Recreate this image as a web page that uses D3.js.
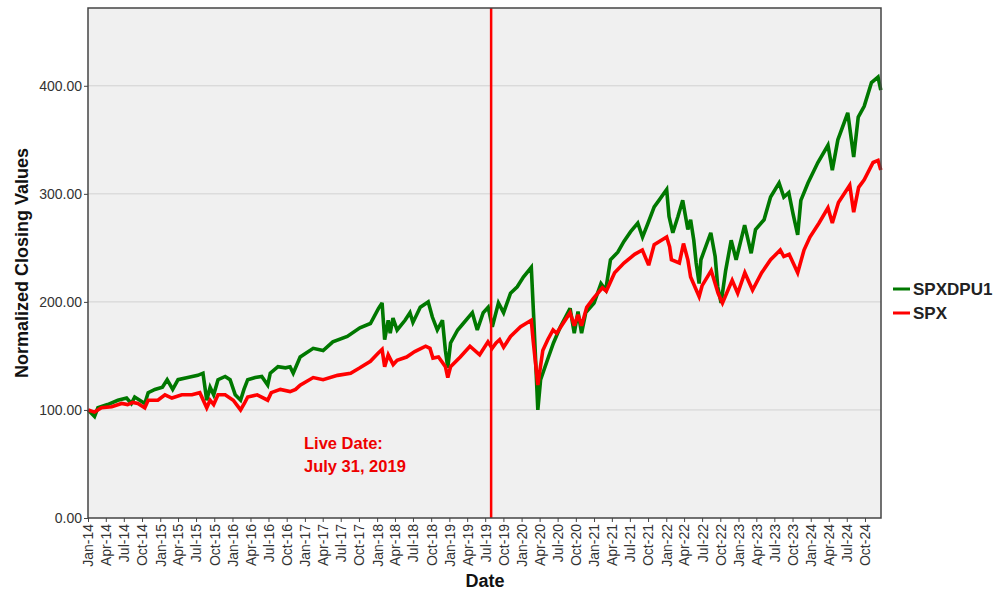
<!DOCTYPE html>
<html>
<head>
<meta charset="utf-8">
<script src="https://cdn.jsdelivr.net/npm/d3@7"></script>
<style>
  body { margin: 0; background: #fff; }
  svg { display: block; font-family: "Liberation Sans", Arial, sans-serif; }
</style>
</head>
<body>
<div id="chart"></div>
<script>
// Series (normalized to 100 at Jan 2014)
const seriesNames = ['SPXDPU1', 'SPX'];
const seriesColors = ['#007800', '#ff0000'];

const dpuDates = [
  '2014-01-02','2014-02-03','2014-02-20','2014-04-10','2014-06-01','2014-07-15','2014-08-08','2014-08-25',
  '2014-10-15','2014-11-01','2014-12-05','2015-01-12','2015-02-05','2015-03-05','2015-04-01','2015-05-20',
  '2015-07-10','2015-08-05','2015-08-24','2015-09-10','2015-09-28','2015-10-20','2015-11-25','2015-12-20',
  '2016-01-15','2016-02-11','2016-02-28','2016-03-18','2016-04-25','2016-05-28','2016-06-27','2016-07-10',
  '2016-08-18','2016-09-25','2016-10-18','2016-11-03','2016-12-08','2017-02-12','2017-04-03','2017-05-22',
  '2017-08-03','2017-10-06','2017-11-28','2018-01-08','2018-01-26','2018-02-08','2018-02-26','2018-03-08',
  '2018-03-22','2018-04-12','2018-05-22','2018-06-16','2018-07-01','2018-08-07','2018-09-16','2018-10-07',
  '2018-11-01','2018-11-27','2018-12-12','2018-12-24','2019-01-07','2019-02-12','2019-03-12','2019-04-27',
  '2019-05-22','2019-06-21','2019-07-16','2019-08-06','2019-09-06','2019-10-02','2019-11-06','2019-12-10',
  '2020-01-10','2020-02-19','2020-03-01','2020-03-23','2020-04-06','2020-05-10','2020-06-10','2020-07-15',
  '2020-09-02','2020-09-23','2020-10-12','2020-10-30','2020-11-20','2021-01-01','2021-02-05','2021-03-01',
  '2021-03-25','2021-05-01','2021-06-01','2021-07-05','2021-08-10','2021-09-03','2021-10-01','2021-11-01',
  '2021-11-25','2022-01-03','2022-01-15','2022-02-03','2022-03-01','2022-03-25','2022-04-20','2022-05-04',
  '2022-05-20','2022-06-01','2022-06-16','2022-06-25','2022-08-14','2022-09-05','2022-09-18','2022-10-05',
  '2022-10-28','2022-11-25','2022-12-20','2023-02-01','2023-03-06','2023-03-28','2023-05-10','2023-06-12',
  '2023-07-25','2023-08-18','2023-09-12','2023-10-03','2023-10-27','2023-11-12','2023-12-18','2024-02-06',
  '2024-03-28','2024-04-19','2024-05-17','2024-07-06','2024-08-05','2024-08-28','2024-09-27','2024-11-03',
  '2024-12-06','2024-12-20'
];
const dpuValues = [
  100, 94, 102, 105, 109, 111, 106, 112,
  106, 116, 119, 121, 128, 119, 128, 130,
  132, 134, 109, 121, 114, 128, 131, 128,
  114, 109, 119, 128, 130, 131, 123, 134,
  140, 139, 140, 134, 149, 157, 155, 163,
  168, 176, 180, 194, 199, 165, 183, 171,
  185, 174, 183, 190, 181, 195, 200, 186,
  174, 183, 155, 139, 162, 174, 180, 190,
  174, 190, 195, 177, 199, 190, 208, 214,
  223, 232, 190, 100, 128, 146, 162, 177,
  194, 171, 191, 171, 190, 199, 217, 211,
  239, 246, 256, 265, 273, 260, 273, 288,
  294, 304, 279, 264, 279, 294, 267, 276,
  257, 236, 217, 239, 264, 242, 214, 199,
  229, 257, 239, 271, 245, 267, 276, 297,
  310, 297, 301, 282, 262, 294, 310, 329,
  345, 322, 350, 375, 334, 371, 381, 403,
  408, 396
];

const spxDates = [
  '2014-01-02','2014-02-03','2014-03-10','2014-05-01','2014-06-20','2014-07-20','2014-08-15','2014-09-10',
  '2014-10-15','2014-11-01','2014-12-20','2015-01-25','2015-03-01','2015-04-20','2015-06-10','2015-07-20',
  '2015-08-24','2015-09-10','2015-09-28','2015-10-20','2015-11-25','2016-01-05','2016-02-11','2016-03-01',
  '2016-03-18','2016-05-05','2016-06-27','2016-07-15','2016-08-30','2016-10-18','2016-11-15','2016-12-08',
  '2017-02-12','2017-04-03','2017-06-15','2017-08-20','2017-10-06','2017-11-28','2018-01-08','2018-01-26',
  '2018-02-08','2018-02-26','2018-03-23','2018-04-12','2018-05-30','2018-07-10','2018-09-03','2018-09-25',
  '2018-10-10','2018-11-07','2018-12-12','2018-12-24','2019-01-07','2019-02-25','2019-04-15','2019-06-03',
  '2019-07-15','2019-08-05','2019-08-25','2019-09-12','2019-10-02','2019-11-06','2019-12-27','2020-02-19',
  '2020-02-28','2020-03-23','2020-04-17','2020-05-12','2020-06-08','2020-06-26','2020-09-02','2020-09-23',
  '2020-10-12','2020-10-30','2020-11-25','2020-12-28','2021-02-12','2021-03-04','2021-04-15','2021-06-01',
  '2021-07-25','2021-09-02','2021-10-04','2021-11-01','2022-01-03','2022-01-18','2022-01-27','2022-03-08',
  '2022-03-29','2022-04-20','2022-05-04','2022-06-16','2022-07-01','2022-08-16','2022-09-20','2022-10-12',
  '2022-11-30','2022-12-28','2023-02-02','2023-03-13','2023-04-28','2023-06-12','2023-07-31','2023-08-18',
  '2023-09-14','2023-10-27','2023-11-28','2023-12-28','2024-02-12','2024-03-28','2024-04-19','2024-05-20',
  '2024-07-16','2024-08-05','2024-08-30','2024-09-27','2024-11-11','2024-12-06','2024-12-20'
];
const spxValues = [
  100, 98, 102, 103, 106, 105, 107, 106,
  102, 109, 109, 114, 111, 114, 114, 116,
  102, 109, 105, 114, 114, 109, 100, 106,
  112, 114, 109, 116, 119, 117, 119, 123,
  130, 128, 132, 134, 139, 145, 153, 156,
  140, 151, 142, 146, 149, 154, 159, 157,
  148, 149, 140, 130, 140, 149, 159, 151,
  163, 157, 162, 165, 158, 168, 177, 183,
  165, 123, 155, 165, 174, 171, 190, 178,
  188, 178, 195, 203, 213, 210, 227, 236,
  244, 248, 234, 253, 260, 251, 239, 236,
  254, 239, 223, 205, 215, 229, 208, 199,
  220, 208, 227, 211, 227, 239, 248, 242,
  244, 227, 248, 260, 273, 287, 273, 292,
  308, 283, 306, 313, 329, 331, 322
];

const yTicks = [0, 100, 200, 300, 400];
const liveDate = '2019-07-31';
const liveLabel = ['Live Date:', 'July 31, 2019'];

const width = 1000, height = 600;
const margin = { top: 8, right: 119, bottom: 82, left: 88 };
const innerW = width - margin.left - margin.right;
const innerH = height - margin.top - margin.bottom;

const parse = d3.timeParse('%Y-%m-%d');
const series = [
  { name: seriesNames[0], color: seriesColors[0], points: dpuDates.map((d, i) => ({ date: parse(d), value: dpuValues[i] })) },
  { name: seriesNames[1], color: seriesColors[1], points: spxDates.map((d, i) => ({ date: parse(d), value: spxValues[i] })) }
];

const svg = d3.select('#chart').append('svg')
  .attr('width', width)
  .attr('height', height);

const x = d3.scaleTime()
  .domain([parse('2014-01-01'), parse('2024-12-21')])
  .range([margin.left, margin.left + innerW]);

const y = d3.scaleLinear()
  .domain([0, 472])
  .range([margin.top + innerH, margin.top]);

// plot background
svg.append('rect')
  .attr('x', margin.left).attr('y', margin.top)
  .attr('width', innerW).attr('height', innerH)
  .attr('fill', '#f0f0f0');

// horizontal grid
svg.append('g')
  .selectAll('line')
  .data(yTicks.filter(t => t > 0))
  .join('line')
  .attr('x1', margin.left).attr('x2', margin.left + innerW)
  .attr('y1', d => y(d)).attr('y2', d => y(d))
  .attr('stroke', '#d2d2d2')
  .attr('stroke-width', 1);

// lines
const line = d3.line()
  .x(d => x(d.date))
  .y(d => y(d.value));

svg.append('g')
  .selectAll('path')
  .data(series)
  .join('path')
  .attr('d', d => line(d.points))
  .attr('fill', 'none')
  .attr('stroke', d => d.color)
  .attr('stroke-width', 3.6)
  .attr('stroke-linejoin', 'miter')
  .attr('stroke-miterlimit', 3);

// live date marker
svg.append('line')
  .attr('x1', x(parse(liveDate))).attr('x2', x(parse(liveDate)))
  .attr('y1', margin.top).attr('y2', margin.top + innerH)
  .attr('stroke', '#ff0000')
  .attr('stroke-width', 2.5);

svg.append('text')
  .attr('x', 304)
  .attr('y', 449)
  .attr('fill', '#ee0000')
  .attr('font-size', 16.5)
  .attr('font-weight', 'bold')
  .selectAll('tspan')
  .data(liveLabel)
  .join('tspan')
  .attr('x', 304)
  .attr('dy', (d, i) => i === 0 ? 0 : 23)
  .text(d => d);

// y axis
const yAxis = svg.append('g')
  .attr('transform', `translate(${margin.left},0)`)
  .call(d3.axisLeft(y).tickValues(yTicks).tickFormat(d3.format('.2f')).tickSize(4).tickPadding(2));
yAxis.select('.domain').remove();
yAxis.selectAll('.tick line').attr('stroke', '#444');
yAxis.selectAll('.tick text')
  .attr('font-size', 14)
  .attr('fill', '#333')
  .attr('font-family', '"Liberation Sans", Arial, sans-serif');

// x axis, quarterly ticks
const xAxis = svg.append('g')
  .attr('transform', `translate(0,${margin.top + innerH})`)
  .call(d3.axisBottom(x)
    .ticks(d3.timeMonth.every(3))
    .tickFormat(d3.timeFormat('%b-%y'))
    .tickSize(4));
xAxis.select('.domain').remove();
xAxis.selectAll('.tick line').attr('stroke', '#444');
xAxis.selectAll('.tick text')
  .attr('font-size', 14)
  .attr('fill', '#333')
  .attr('font-family', '"Liberation Sans", Arial, sans-serif')
  .attr('text-anchor', 'end')
  .attr('transform', 'rotate(-90)')
  .attr('x', -6)
  .attr('y', 0)
  .attr('dy', '0.35em');

// plot frame
svg.append('rect')
  .attr('x', margin.left).attr('y', margin.top)
  .attr('width', innerW).attr('height', innerH)
  .attr('fill', 'none')
  .attr('stroke', '#444')
  .attr('stroke-width', 1.5);

// axis titles
svg.append('text')
  .attr('x', x(parse(liveDate)) - 6)
  .attr('y', 587)
  .attr('text-anchor', 'middle')
  .attr('font-size', 18)
  .attr('font-weight', 'bold')
  .attr('fill', '#111')
  .text('Date');

svg.append('text')
  .attr('transform', `translate(28,${margin.top + innerH / 2}) rotate(-90)`)
  .attr('text-anchor', 'middle')
  .attr('font-size', 18)
  .attr('font-weight', 'bold')
  .attr('fill', '#111')
  .text('Normalized Closing Values');

// legend
const legend = svg.append('g')
  .attr('transform', 'translate(893,289)')
  .selectAll('g')
  .data(series)
  .join('g')
  .attr('transform', (d, i) => `translate(0,${i * 24})`);

legend.append('line')
  .attr('x1', 0).attr('x2', 17)
  .attr('y1', 0).attr('y2', 0)
  .attr('stroke', d => d.color)
  .attr('stroke-width', 3);

legend.append('text')
  .attr('x', 20)
  .attr('y', 0)
  .attr('dy', '0.36em')
  .attr('font-size', 17)
  .attr('font-weight', 'bold')
  .attr('fill', '#222')
  .text(d => d.name);
</script>
</body>
</html>
